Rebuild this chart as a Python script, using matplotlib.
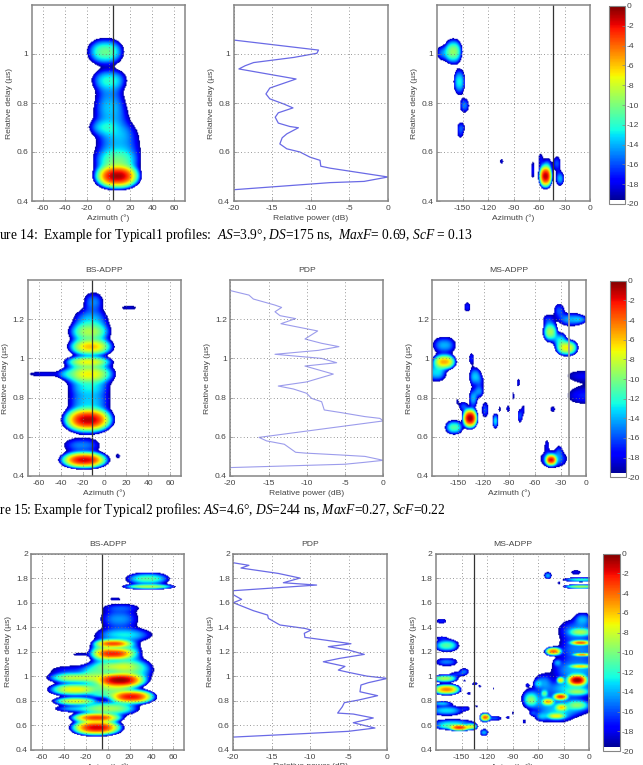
import matplotlib
matplotlib.use("Agg")
import matplotlib.pyplot as plt
import numpy as np
from matplotlib.colors import ListedColormap, Normalize
from matplotlib.cm import ScalarMappable

plt.rcParams['font.family'] = ['Liberation Sans', 'DejaVu Sans']
plt.rcParams['axes.unicode_minus'] = False
plt.rcParams['mathtext.fontset'] = 'custom'
plt.rcParams['mathtext.rm'] = 'Liberation Serif'
plt.rcParams['mathtext.it'] = 'Liberation Serif:italic'

# power lobes: azimuth (deg), delay (us), peak (dB), azimuth spread (deg), delay spread (us)
bs1 = [(-2.7, 1.01, -10.5, 17.5, .058), (.7, .895, -13, 16, .045), (1, .85, -16.5, 11, .05),
       (1.5, .785, -15, 14, .05), (3, .735, -16.5, 14, .04), (-5, .70, -15, 12, .03),
       (8, .68, -16, 15, .04), (9, .62, -15, 20, .07), (7.5, .56, -11, 21, .06),
       (8, .50, -0.8, 23, .06)]
ms1 = [(-161, 1.011, -9.5, 11, .055), (-173, 1.005, -15, 8, .03), (-154, .887, -12.5, 7, .055),
       (-148, .79, -15, 5.5, .03), (-152, .699, -16, 4.5, .022), (-153, .67, -18.5, 2.5, .012),
       (-104, .56, -18.5, 2, .012), (-52, .50, -1, 9, .055), (-58, .568, -18, 2.5, .027),
       (-67, .525, -17.5, 2, .035), (-38.5, .552, -16, 4.5, .03), (-35, .49, -14, 5, .03),
       (-50, .545, -16, 5, .03)]
bs2 = [(-19, .48, -1.5, 24, .05), (-21, .555, -15, 17, .04), (-15.5, .686, -1, 25, .076),
       (-14.5, .78, -13.5, 20, .07), (-14.5, .85, -14, 18, .04), (-14.5, .92, -7, 25, .065),
       (-15, .983, -7.5, 23, .035), (-13, 1.06, -6, 22, .055), (-14, 1.136, -9, 20, .06),
       (-13, 1.2, -14, 16, .055), (-10.5, 1.29, -15, 9, .05), (22, 1.26, -18.5, 7, .012),
       (-55, .92, -18, 15, .014), (-36, .92, -17, 5, .02), (12, .5, -18.5, 2, .012)]
ms2 = [(-135.8, .694, -0.5, 10, .06), (-154.5, .647, -11, 11, .038), (-132, .796, -14, 5, .05),
       (-125, .83, -15, 5, .03), (-130, .907, -13.5, 7, .05), (-123, .885, -18, 3, .025),
       (-134, 1.0, -17, 3, .028), (-143.5, .754, -16, 5, .025), (-151, .78, -19, 1.5, .012),
       (-139, 1.264, -17, 3.5, .025), (-166, .983, -5.5, 15, .045), (-175, .93, -13, 12, .05),
       (-166, 1.068, -14, 14, .045), (-118, .737, -16, 4, .04), (-106, .68, -13, 3.5, .04),
       (-101, .74, -19, 1.5, .015), (-91, .742, -18, 2, .017), (-85, .808, -18.5, 1.2, .02),
       (-79, .876, -18, 2, .02), (-77, .706, -16, 3, .035), (-73, .74, -18.5, 1.5, .02),
       (-38.5, .74, -18, 2.5, .014), (-40.5, .48, -2, 8, .035), (-37.5, .485, -14, 16, .045),
       (-45.5, .558, -18, 2.5, .025), (-31, .53, -18, 3, .02), (-41.5, 1.136, -9, 9, .055),
       (-22, 1.055, -7, 14, .045), (-30, 1.095, -13, 8, .04), (-31, 1.247, -16, 6, .035),
       (-17, 1.2, -14, 15, .035), (-5, 1.2, -17, 6, .015), (-44, 1.2, -17, 6, .025),
       (0, .912, -18, 22, .027), (0, .81, -17, 22, .045)]
bs3 = [(-10, .58, -1.5, 26, .075), (-10, .661, -3, 26, .05), (2, .737, -9, 28, .065),
       (-28, .735, -14, 21, .03), (-30, .893, -7, 26, .06), (-29.5, .797, -7.5, 22, .04),
       (-30, .988, -8.5, 26, .05), (-30, 1.05, -17, 22, .04), (11.5, .969, -0.5, 27, .08),
       (22, .833, -2, 24, .07), (5.5, 1.186, -2.5, 22, .065), (5.5, 1.268, -3.5, 20, .045),
       (9, 1.08, -9, 26, .06), (23, 1.05, -12, 20, .1), (5, .9, -10, 22, .06),
       (-10, 1.0, -11, 15, .1), (-5, 1.2, -11, 12, .1), (20, 1.2, -13, 12, .1),
       (15, 1.34, -13, 27, .06), (11, 1.47, -14.5, 18, .09), (13, 1.565, -17.5, 14, .025),
       (7, 1.635, -18.5, 5, .012), (-26, 1.18, -18.5, 6, .012), (37, 1.8, -11, 21, .055),
       (38, 1.736, -9, 25, .025), (-3, .85, -13, 15, .03)]
ms3 = [(-152.7, .58, -3, 14, .033), (-139, .588, -8, 8, .03), (-166, .59, -12, 16, .03),
       (-122.7, .664, -4, 7, .04), (-124, .54, -14, 5, .03), (-168, .72, -13, 20, .045),
       (-160, .62, -14, 25, .03), (-112, .656, -16, 9, .02), (-96, .664, -18, 2, .012),
       (-90, .697, -19, 1.2, .015), (-168, .893, -4.5, 18, .05), (-170, .982, -9, 16, .035),
       (-174, .778, -14, 12, .02), (-168, 1.254, -11, 15, .055), (-174, 1.317, -18.5, 5, .01),
       (-174, 1.453, -17, 6, .02), (-168, 1.118, -15, 13, .035), (-147, 1.042, -16, 5, .025),
       (-155, 1.02, -17, 8, .02), (-147, .963, -19, 2, .008), (-135, .94, -17.5, 3, .015),
       (-129, .92, -18.5, 1.5, .012), (-142, .86, -18, 2, .015), (-113, .9, -19, 1, .012),
       (-133, .756, -19, 2, .008), (-145, .737, -18, 4, .015), (-14.5, .969, -0.5, 14, .06),
       (-34, .833, -3, 10, .035), (-42.5, 1.205, -4, 11, .04), (-10.5, 1.276, -4, 14, .025),
       (-8.5, 1.178, -5, 12, .015), (-10.5, 1.083, -7, 14, .02), (-10.5, 1.363, -10, 14, .035),
       (-8, 1.472, -15, 9, .05), (-38, 1.113, -16, 4, .025), (-34, .969, -7, 5, .03),
       (-55, .95, -15, 10, .07), (-48.7, .792, -6, 8, .035), (-33, .745, -7, 8, .035),
       (-39, .675, -8, 12, .03), (-57, .67, -16, 6, .03), (-69, .805, -12, 7, .05),
       (-53, .86, -12, 4, .03), (-14, .873, -11, 14, .03), (-14, .765, -11, 13, .04),
       (-77, .63, -18, 2, .017), (-67, .697, -18, 3, .015), (-73, .93, -18, 2, .012),
       (-61, .94, -16, 4, .025), (-49, 1.826, -14, 4.5, .03), (-16, 1.853, -18, 6, .02),
       (-10, 1.793, -12, 22, .02), (-10, 1.736, -9, 22, .02), (-36, 1.766, -18.5, 2, .01),
       (-15, 1.38, -15, 22, .09), (-12, 1.22, -15, 25, .1), (-15, 1.05, -14, 30, .1),
       (-22, .9, -13, 30, .08), (-25, .75, -14, 30, .08), (-40, .68, -15, 20, .06),
       (-60, .8, -15, 18, .08), (-70, .83, -16, 8, .06)]

# power delay profiles
pdp1_db = [-20, -7.5, -3.1, 0, -7.5, -8.7, -8.8, -10.1, -11.4, -13.1, -14, -13.7, -13.1, -11.6,
           -12.7, -14.2, -14.6, -14.2, -12.3, -13.5, -15.3, -15.8, -15.3, -11.9, -19.3,
           -18.5, -17.4, -12.2, -9.2, -9, -20]
pdp1_delay = [.446, .475, .48, .498, .534, .542, .566, .579, .6, .613, .633, .658, .674, .699,
              .704, .718, .742, .76, .78, .796, .817, .837, .861, .898, .939,
              .952, .965, .986, 1.003, 1.016, 1.057]
pdp2_db = [-20, -5.01, -2.4, 0, -2.4, -5.45, -10.24, -11.46, -12.94, -15.25, -16.25, 0, -.44, -2.4,
           -5.45, -7.72, -8.06, -9.37, -10.02, -11.76, -13.73, -10.02, -6.54, -10.24, -6.1, -8.06,
           -14.16, -8.5, -5.8, -8.06, -10.24, -8.58, -13.38, -11.46, -13.5, -14.16, -13.29, -14.16,
           -16.99, -17.56, -20]
pdp2_delay = [.443, .46, .47, .48, .5, .507, .517, .521, .562, .579, .597, .681, .694, .703,
              .723, .737, .779, .796, .822, .844, .859, .88, .92, .961, .978, 1.0,
              1.021, 1.041, 1.06, 1.077, 1.099, 1.14, 1.177, 1.203, 1.218, 1.238, 1.26, 1.272,
              1.303, 1.323, 1.346]
pdp3_db = [-20, -10.26, -5.06, -1.6, -3.77, -4.42, -1.82, -4.42, -6.45, -5.84, -5.58, -3.77, -1.26,
           -3.55, -3.42, -2.47, 0, -2.68, -4.85, -6.36, -5.5, -8.31, -6.15, -2.99, -5.06, -7.66,
           -4.72, -8.1, -10.7, -10.78, -9.91, -10.7, -13.94, -15.45, -15.54, -17.4, -20, -18.92,
           -20, -20, -9.18, -13.5, -11.34, -14.16, -19, -17.97, -20]
pdp3_delay = [.503, .533, .55, .577, .61, .62, .659, .691, .699, .751, .784, .805, .841,
              .873, .928, .947, .982, 1.001, 1.029, 1.05, 1.08, 1.118, 1.146, 1.178, 1.214, 1.241,
              1.265, 1.295, 1.317, 1.35, 1.377, 1.39, 1.418, 1.472, 1.499, 1.535, 1.6, 1.627,
              1.665, 1.698, 1.744, 1.763, 1.801, 1.839, 1.883, 1.905, 1.926]

delay_limits = [(0.4, 1.2), (0.4, 1.4), (0.4, 2.0)]
delay_ticks = [[0.4, 0.6, 0.8, 1], [0.4, 0.6, 0.8, 1, 1.2],
               [0.4, 0.6, 0.8, 1, 1.2, 1.4, 1.6, 1.8, 2]]
bs_azimuth_ticks = [-60, -40, -20, 0, 20, 40, 60]
ms_azimuth_ticks = [-150, -120, -90, -60, -30, 0]
power_ticks = [-20, -15, -10, -5, 0]
colorbar_ticks = [0, -2, -4, -6, -8, -10, -12, -14, -16, -18, -20]
bs_direction = [3.9, -11, -5.7]
ms_direction = [-43, -20, -135]
captions = [r'Figure 14:  Example for Typical1 profiles:  $AS$=3.9°, $DS$=175 ns,  $MaxF$= 0.69, $ScF$ = 0.13',
            r'Figure 15: Example for Typical2 profiles: $AS$=4.6°, $DS$=244 ns, $MaxF$=0.27, $ScF$=0.22']

W, H = 643, 765
GRAY = '#858585'
TEXT = '#444444'
FS = 6.1

# jet with the lowest bins left white, everything under the floor stays blank
jet = plt.get_cmap('jet')(np.linspace(0, 1, 256))
jet[:5] = [1, 1, 1, 1]
cmap = ListedColormap(jet)
norm = Normalize(-20, 0)


def px_axes(fig, x0, x1, top, bottom):
    return fig.add_axes([x0 / W, 1 - bottom / H, (x1 - x0) / W, (bottom - top) / H])


def adpp_field(lobes, xlim, ylim):
    az = np.linspace(xlim[0], xlim[1], 170)
    delay = np.linspace(ylim[0], ylim[1], 220)
    aa, dd = np.meshgrid(az, delay)
    power = np.full(aa.shape, 1e-6)
    for a0, d0, peak, wa, wd in lobes:
        # a little flat-sided in azimuth, rounder along delay
        r = np.abs((aa - a0) / wa) ** 2.4 + ((dd - d0) / wd) ** 2
        power += 10 ** ((peak - (peak + 20) * r) / 10)
    return 10 * np.log10(power)


def style_axes(ax, xticks, row):
    ax.set_ylim(*delay_limits[row])
    ax.set_xticks(xticks)
    ax.set_yticks(delay_ticks[row])
    ax.set_yticklabels([f'{t:g}' for t in delay_ticks[row]])
    ax.grid(True, color='#777777', lw=0.6, linestyle=(0, (1, 3)))
    ax.set_axisbelow(False)
    ax.tick_params(direction='in', length=2, width=0.5, color=GRAY, labelsize=FS,
                   labelcolor=TEXT, pad=2.5)
    ax.tick_params(axis='x', pad=3)
    for s in ax.spines.values():
        s.set_color(GRAY)
        s.set_linewidth(1.1)


def label_axes(fig, x0, x1, top, bottom, xlabel, title):
    fig.text((x0 + x1) / 2 / W, 1 - (bottom + 17) / H, xlabel, ha='center', va='center',
             fontsize=FS, color=TEXT)
    fig.text((x0 - 22.5) / W, 1 - (top + bottom) / 2 / H, 'Relative delay (µs)', rotation=90,
             ha='center', va='center', fontsize=FS, color=TEXT)
    if title:
        fig.text((x0 + x1) / 2 / W, 1 - (top - 9.5) / H, title, ha='center', va='center',
                 fontsize=FS, color=TEXT)


def draw_adpp(fig, box, lobes, xlim, xticks, row, direction, title, line_color='#333333', lw=0.9):
    ax = px_axes(fig, *box)
    field = adpp_field(lobes, xlim, delay_limits[row])
    ax.imshow(field, origin='lower', aspect='auto', cmap=cmap, norm=norm, interpolation='bilinear',
              interpolation_stage='rgba',
              extent=[xlim[0], xlim[1], delay_limits[row][0], delay_limits[row][1]])
    ax.set_xlim(*xlim)
    style_axes(ax, xticks, row)
    ax.axvline(direction, color=line_color, lw=lw)
    label_axes(fig, *box, 'Azimuth (°)', title)


def draw_pdp(fig, box, db, delay, row, title, color, lw):
    ax = px_axes(fig, *box)
    ax.plot(db, delay, color=color, lw=lw)
    ax.set_xlim(-20, 0)
    style_axes(ax, power_ticks, row)
    label_axes(fig, *box, 'Relative power (dB)', title)


def draw_colorbar(fig, box):
    cax = px_axes(fig, *box)
    cb = fig.colorbar(ScalarMappable(norm=norm, cmap=cmap), cax=cax)
    cb.set_ticks(colorbar_ticks)
    cb.set_ticklabels([f'{t}' for t in colorbar_ticks])
    cax.tick_params(direction='in', length=2, width=0.5, color=GRAY, labelsize=FS,
                    labelcolor=TEXT, pad=1)
    cb.outline.set_edgecolor(GRAY)
    cb.outline.set_linewidth(0.8)


fig = plt.figure(figsize=(W / 100, H / 100), dpi=100)

rows = [
    dict(bs=(32, 185, 5, 201), pdp=(233.5, 388, 5, 201), ms=(437, 590, 5, 201), cb=(609, 625, 6, 204)),
    dict(bs=(27.7, 181.3, 280, 476), pdp=(230.3, 383.3, 280, 476), ms=(432.3, 586.3, 280, 476),
         cb=(610.3, 626.3, 280.7, 477.3)),
    dict(bs=(31.3, 184.3, 553.7, 749.7), pdp=(233.3, 387.3, 553.7, 749.7), ms=(436, 589.3, 553.7, 749.7),
         cb=(603.3, 620, 553.7, 751)),
]
bs_lobes = [bs1, bs2, bs3]
ms_lobes = [ms1, ms2, ms3]
pdp_db = [pdp1_db, pdp2_db, pdp3_db]
pdp_delay = [pdp1_delay, pdp2_delay, pdp3_delay]
pdp_style = [('#6a6ae6', 0.9), ('#9c9cec', 0.8), ('#6a6ae6', 0.9)]
ms_line = [('#333333', 0.9), ('#9a9a9a', 1.3), ('#333333', 0.9)]

for i, r in enumerate(rows):
    titled = i > 0
    draw_adpp(fig, r['bs'], bs_lobes[i], (-70, 70), bs_azimuth_ticks, i, bs_direction[i],
              'BS-ADPP' if titled else None)
    draw_pdp(fig, r['pdp'], pdp_db[i], pdp_delay[i], i, 'PDP' if titled else None,
             pdp_style[i][0], pdp_style[i][1])
    draw_adpp(fig, r['ms'], ms_lobes[i], (-180, 0), ms_azimuth_ticks, i, ms_direction[i],
              'MS-ADPP' if titled else None, ms_line[i][0], ms_line[i][1])
    draw_colorbar(fig, r['cb'])

# captions run off the left edge of the page
fig.text(473 / W, 1 - 234.5 / H, captions[0], ha='right', va='center', fontsize=9.72,
         family='Liberation Serif', color='black')
fig.text(446 / W, 1 - 510 / H, captions[1], ha='right', va='center', fontsize=9.72,
         family='Liberation Serif', color='black')

fig.savefig('out.png', dpi=100)
